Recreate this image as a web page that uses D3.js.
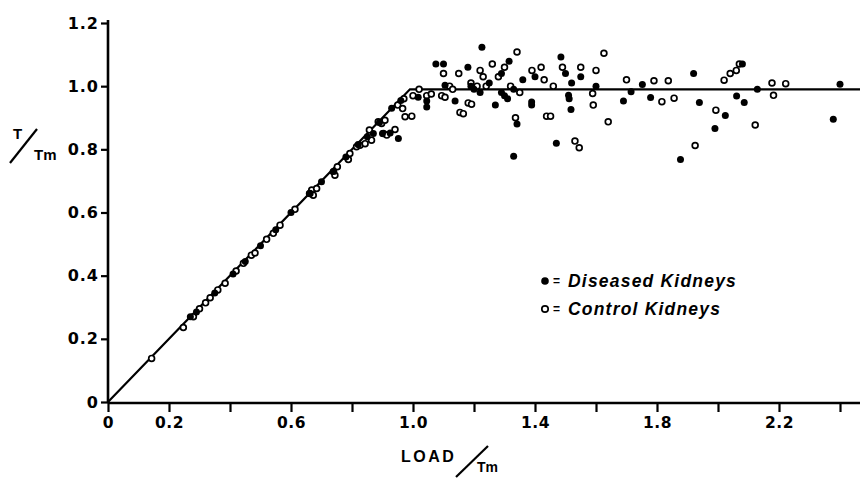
<!DOCTYPE html>
<html><head><meta charset="utf-8">
<script src="https://cdn.jsdelivr.net/npm/d3@7"></script>
<style>body{margin:0;background:#fff}svg{display:block}</style>
</head><body>
<svg id="c" width="860" height="478"></svg>
<script>
const xTickValues = [0,0.2,0.4,0.6,0.8,1.0,1.2,1.4,1.6,1.8,2.0,2.2,2.4];
const xTickLabels = {0:"0",0.2:"0.2",0.6:"0.6",1.0:"1.0",1.4:"1.4",1.8:"1.8",2.2:"2.2"};
const yTickValues = [0,0.2,0.4,0.6,0.8,1.0,1.2];
const yTickLabels = ["0","0.2","0.4","0.6","0.8","1.0","1.2"];
const fitLine = [[0,0],[0.99,0.99],[2.47,0.99]];
const diseased = [
 [0.27,0.27],[0.29,0.285],[0.35,0.345],[0.41,0.405],[0.45,0.445],[0.5,0.495],[0.55,0.545],[0.6,0.6],
 [0.66,0.66],[0.7,0.697],[0.74,0.73],[0.78,0.776],[0.82,0.815],[0.85,0.84],[0.87,0.85],[0.89,0.885],
 [0.9,0.85],[0.925,0.852],[0.952,0.834],[0.93,0.93],[0.96,0.955],
 [1.017,0.965],[1.045,0.953],[1.045,0.934],[1.105,1.003],[1.138,0.953],[1.075,1.07],[1.1,1.07],
 [1.226,1.123],[1.19,1.0],[1.2,0.99],[1.29,0.98],[1.3,0.97],[1.31,0.96],[1.33,0.778],[1.341,0.88],
 [1.389,0.95],[1.389,0.94],[1.315,1.079],[1.29,1.04],[1.4,1.03],[1.47,0.819],[1.51,0.971],[1.512,0.96],
 [1.518,0.926],[1.485,1.092],[1.5,1.04],[1.52,1.01],[1.55,1.03],[1.6,1.0],[1.69,0.953],[1.715,0.982],
 [1.752,1.005],[1.779,0.964],[1.877,0.768],[1.939,0.948],[1.92,1.04],[1.99,0.866],[2.024,0.907],
 [2.061,0.969],[2.086,0.948],[2.08,1.07],[2.129,0.99],[2.378,0.895],[2.4,1.006],[1.36,1.02],[1.25,1.01],
 [1.22,0.98],[1.33,0.99],[1.27,0.94],[1.18,1.06]
];
const control = [
 [0.143,0.138],[0.247,0.236],[0.28,0.27],[0.3,0.295],[0.32,0.314],[0.335,0.33],[0.36,0.355],[0.384,0.376],
 [0.42,0.415],[0.444,0.439],[0.47,0.465],[0.482,0.472],[0.52,0.515],[0.542,0.534],[0.564,0.56],[0.613,0.61],
 [0.668,0.671],[0.673,0.655],[0.662,0.66],[0.684,0.676],[0.739,0.729],[0.744,0.718],[0.752,0.745],
 [0.788,0.768],[0.793,0.787],[0.815,0.808],[0.826,0.813],[0.843,0.818],[0.857,0.861],[0.864,0.829],
 [0.886,0.887],[0.897,0.882],[0.903,0.85],[0.914,0.845],[0.941,0.863],[0.908,0.892],[0.95,0.94],[0.97,0.96],
 [0.966,0.929],[0.974,0.903],[0.996,0.905],[1.0,0.97],[1.02,0.99],[1.045,0.97],[1.06,0.975],[1.094,0.97],
 [1.105,0.965],[1.12,1.0],[1.13,0.99],[1.154,0.917],[1.165,0.913],[1.181,0.947],[1.192,0.943],[1.19,1.01],
 [1.21,1.0],[1.24,1.0],[1.22,1.05],[1.23,1.03],[1.26,1.07],[1.28,1.03],[1.3,1.06],[1.341,1.108],[1.32,1.0],
 [1.336,0.9],[1.35,0.98],[1.438,0.905],[1.451,0.905],[1.43,1.02],[1.46,1.0],[1.49,1.06],[1.531,0.826],
 [1.545,0.805],[1.589,0.977],[1.591,0.94],[1.626,1.104],[1.6,1.05],[1.64,0.887],[1.7,1.02],[1.79,1.017],
 [1.837,1.017],[1.816,0.951],[1.856,0.962],[1.925,0.812],[1.993,0.924],[2.02,1.019],[2.04,1.04],[2.06,1.05],
 [2.07,1.07],[2.122,0.877],[2.177,1.01],[2.182,0.971],[2.222,1.008],[1.39,1.05],[1.42,1.06],[1.55,1.06],
 [1.1,1.04],[1.15,1.04]
];
const legendItems = [{label:"Diseased Kidneys", filled:true},{label:"Control Kidneys", filled:false}];

const svg = d3.select("#c");
const x = d3.scaleLinear().domain([0,1]).range([108,413]);
const y = d3.scaleLinear().domain([0,1.2]).range([402,23]);
const FONT = "'DejaVu Sans', sans-serif";
const LFONT = "'Liberation Sans', Arial, sans-serif";

// x axis
const xAxis = d3.axisBottom(x).tickValues(xTickValues).tickSize(9).tickFormat(d => xTickLabels[d] || "");
const gx = svg.append("g").attr("transform","translate(0,403)").call(xAxis);
gx.select(".domain").remove();
gx.append("line").attr("x1",x(0)).attr("x2",860).attr("y1",0).attr("y2",0).attr("stroke","#000").attr("stroke-width",2.6);
gx.selectAll(".tick line").attr("stroke","#000").attr("stroke-width",2.2);
gx.selectAll(".tick text").attr("font-family",FONT).attr("font-size",15.5).attr("font-weight","bold")
  .attr("letter-spacing",0.5).attr("fill","#000").attr("dy","1.0em").attr("y",9);

// y axis
const yAxis = d3.axisLeft(y).tickValues(yTickValues).tickSize(7).tickFormat((d,i)=>yTickLabels[i]);
const gy = svg.append("g").attr("transform","translate(108,0)").call(yAxis);
gy.select(".domain").remove();
gy.append("line").attr("x1",0).attr("x2",0).attr("y1",y(0)+1).attr("y2",y(1.2)-3).attr("stroke","#000").attr("stroke-width",2.6);
gy.selectAll(".tick line").attr("stroke","#000").attr("stroke-width",2.2);
gy.selectAll(".tick text").attr("font-family",FONT).attr("font-size",16).attr("font-weight","bold")
  .attr("letter-spacing",1).attr("fill","#000").attr("x",-9);

// fitted line
svg.append("path").datum(fitLine)
  .attr("d", d3.line().x(d=>x(d[0])).y(d=>y(d[1])))
  .attr("fill","none").attr("stroke","#000").attr("stroke-width",2.2);

// points
svg.append("g").selectAll("circle").data(control).join("circle")
  .attr("cx",d=>x(d[0])).attr("cy",d=>y(d[1])).attr("r",2.9)
  .attr("fill","#fff").attr("stroke","#000").attr("stroke-width",1.7);
svg.append("g").selectAll("circle").data(diseased).join("circle")
  .attr("cx",d=>x(d[0])).attr("cy",d=>y(d[1])).attr("r",3.5)
  .attr("fill","#000");

// legend
const lg = svg.append("g");
legendItems.forEach((it,i)=>{
  const cy = 281 + i*28;
  lg.append("circle").attr("cx",545).attr("cy",cy).attr("r", it.filled?3.8:3.2)
    .attr("fill", it.filled?"#000":"#fff").attr("stroke","#000").attr("stroke-width", it.filled?0:1.7);
  lg.append("text").attr("x",553).attr("y",cy+4).attr("font-family",LFONT).attr("font-size",12)
    .attr("font-weight","bold").attr("fill","#000").text("=");
  lg.append("text").attr("x",568).attr("y",cy+6).attr("font-family",LFONT).attr("font-size",17.5)
    .attr("font-style","italic").attr("font-weight","bold").attr("letter-spacing",1.2).attr("fill","#000").text(it.label);
});

// axis titles
const xt = svg.append("g");
xt.append("text").attr("x",401).attr("y",462).attr("font-family",LFONT).attr("font-size",16).attr("font-weight","bold")
  .attr("fill","#000").attr("letter-spacing",2.5).text("LOAD");
xt.append("line").attr("x1",456).attr("y1",477).attr("x2",488).attr("y2",446).attr("stroke","#000").attr("stroke-width",2.2);
xt.append("text").attr("x",477).attr("y",472).attr("font-family",LFONT).attr("font-size",14).attr("font-weight","bold").attr("fill","#000").text("Tm");

const yt = svg.append("g");
yt.append("text").attr("x",13).attr("y",139).attr("font-family",LFONT).attr("font-size",15).attr("font-weight","bold").attr("fill","#000").text("T");
yt.append("line").attr("x1",10).attr("y1",163).attr("x2",37).attr("y2",129).attr("stroke","#000").attr("stroke-width",2.2);
yt.append("text").attr("x",34).attr("y",160).attr("font-family",LFONT).attr("font-size",15).attr("font-weight","bold").attr("fill","#000").text("Tm");
</script>
</body></html>
